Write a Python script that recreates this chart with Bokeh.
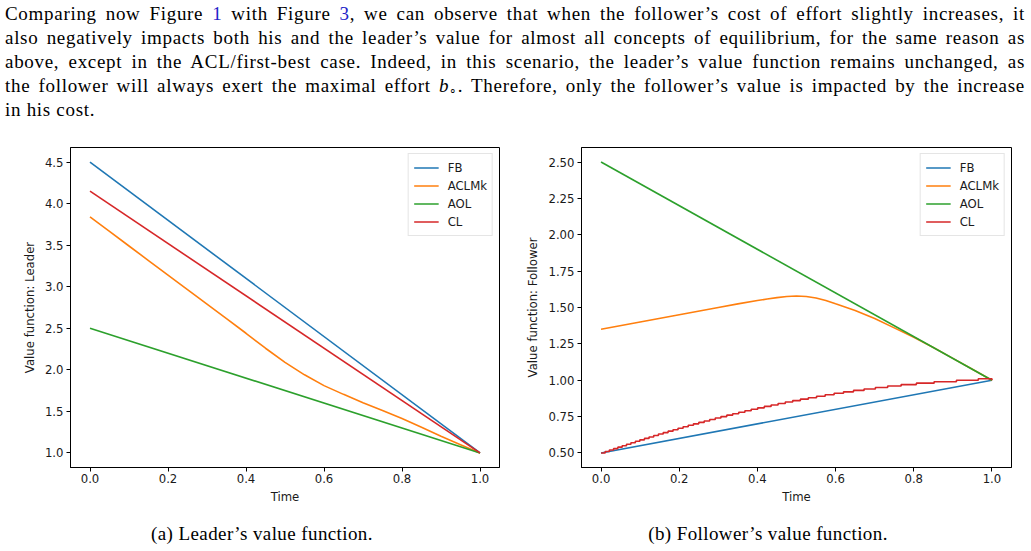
from bokeh.plotting import figure
from bokeh.models import Range1d, FixedTicker, PrintfTickFormatter, Legend, LegendItem, Div
from bokeh.layouts import column, row
from bokeh.embed import file_html
from bokeh.resources import INLINE

# ---------------- data ----------------
series_names = ["FB", "ACLMk", "AOL", "CL"]
colors = ["#1f77b4", "#ff7f0e", "#2ca02c", "#d62728"]

time_ends = [0.0, 1.0]
time_grid = [0.0, 0.05, 0.1, 0.15, 0.2, 0.25, 0.3, 0.35, 0.4, 0.45, 0.5,
             0.55, 0.6, 0.65, 0.7, 0.75, 0.8, 0.85, 0.9, 0.95, 1.0]

# Leader's value function
leader_fb = [4.5, 1.0]
leader_aclmk = [3.84, 3.665, 3.49, 3.315, 3.14, 2.965, 2.79, 2.615, 2.44, 2.26, 2.09,
                1.94, 1.81, 1.705, 1.605, 1.51, 1.415, 1.31, 1.20, 1.10, 1.0]
leader_aol = [2.5, 1.0]
leader_cl = [4.15, 1.0]

# Follower's value function
follower_fb = [0.5, 1.0]
follower_aclmk_t = [0.0, 0.1, 0.2, 0.3, 0.35, 0.4, 0.425, 0.45, 0.475, 0.5, 0.525,
                    0.55, 0.575, 0.6, 0.65, 0.7, 0.75, 0.8, 0.85, 0.9, 0.95, 1.0]
follower_aclmk = [1.35, 1.40, 1.45, 1.50, 1.525, 1.548, 1.558, 1.568, 1.576, 1.579, 1.576,
                  1.565, 1.548, 1.525, 1.48, 1.425, 1.36, 1.295, 1.225, 1.15, 1.075, 1.0]
follower_aol = [2.5, 1.0]
# closed-loop follower value: piecewise constant levels and the times they start
follower_cl_t = [0.0, 0.0106, 0.0213, 0.0321, 0.0430, 0.0540, 0.0651, 0.0764, 0.0878, 0.0993,
                 0.1110, 0.1228, 0.1347, 0.1468, 0.1591, 0.1715, 0.1841, 0.1969, 0.2099, 0.2230,
                 0.2364, 0.2500, 0.2638, 0.2779, 0.2922, 0.3067, 0.3216, 0.3367, 0.3522, 0.3680,
                 0.3841, 0.4007, 0.4176, 0.4350, 0.4529, 0.4713, 0.4903, 0.5099, 0.5302, 0.5513,
                 0.5733, 0.5962, 0.6203, 0.6458, 0.6728, 0.7018, 0.7332, 0.7677, 0.8066, 0.8520,
                 0.9091, 0.9650, 1.0]
follower_cl_v = [0.50, 0.51, 0.52, 0.53, 0.54, 0.55, 0.56, 0.57, 0.58, 0.59,
                 0.60, 0.61, 0.62, 0.63, 0.64, 0.65, 0.66, 0.67, 0.68, 0.69,
                 0.70, 0.71, 0.72, 0.73, 0.74, 0.75, 0.76, 0.77, 0.78, 0.79,
                 0.80, 0.81, 0.82, 0.83, 0.84, 0.85, 0.86, 0.87, 0.88, 0.89,
                 0.90, 0.91, 0.92, 0.93, 0.94, 0.95, 0.96, 0.97, 0.98, 0.99,
                 1.00, 1.01, 1.00]

x_ticks = [0.0, 0.2, 0.4, 0.6, 0.8, 1.0]
leader_y_ticks = [1.0, 1.5, 2.0, 2.5, 3.0, 3.5, 4.0, 4.5]
follower_y_ticks = [0.5, 0.75, 1.0, 1.25, 1.5, 1.75, 2.0, 2.25, 2.5]

SANS = "DejaVu Sans"
SERIF = "Liberation Serif"
TXT = "#1a1a1a"
FS = "11.7px"
LW = 1.6


def make_axes(width, border_left, border_right, y_range, y_ticks, y_fmt, y_label):
    p = figure(width=width, height=377, output_backend="svg", toolbar_location=None,
               x_range=Range1d(-0.05, 1.05), y_range=y_range,
               min_border_left=border_left, min_border_right=border_right,
               min_border_top=17, min_border_bottom=40)
    p.grid.visible = False
    p.outline_line_color = "black"
    p.outline_line_width = 1
    p.outline_line_alpha = 1
    p.background_fill_color = "white"
    p.border_fill_color = "white"

    for ax in (p.xaxis[0], p.yaxis[0]):
        ax.axis_line_color = "black"
        ax.major_tick_line_color = "black"
        ax.major_tick_out = 4
        ax.major_tick_in = 0
        ax.minor_tick_line_color = None
        ax.major_label_text_font = SANS
        ax.major_label_text_font_size = FS
        ax.major_label_text_color = TXT
        ax.axis_label_text_font = SANS
        ax.axis_label_text_font_size = FS
        ax.axis_label_text_font_style = "normal"
        ax.axis_label_text_color = TXT
        ax.major_label_standoff = 3

    p.xaxis.ticker = FixedTicker(ticks=x_ticks)
    p.xaxis.formatter = PrintfTickFormatter(format="%.1f")
    p.xaxis.axis_label = "Time"
    p.xaxis.axis_label_standoff = 4
    p.xaxis.major_label_standoff = 2

    p.yaxis.ticker = FixedTicker(ticks=y_ticks)
    p.yaxis.formatter = PrintfTickFormatter(format=y_fmt)
    p.yaxis.axis_label = y_label
    p.yaxis.axis_label_standoff = 5
    return p


def add_legend(p, renderers):
    items = [LegendItem(label=n, renderers=[r]) for n, r in zip(series_names, renderers)]
    leg = Legend(items=items, location="top_right",
                 label_text_font=SANS, label_text_font_size=FS, label_text_color=TXT,
                 glyph_width=25, glyph_height=17, label_height=17, label_standoff=9,
                 spacing=1, padding=5, margin=6,
                 border_line_color="#cccccc", border_line_width=1,
                 background_fill_color="white", background_fill_alpha=0.8)
    p.add_layout(leg)


# ---------------- leader ----------------
p1 = make_axes(515, 70, 16, Range1d(0.825, 4.675), leader_y_ticks, "%.1f",
               "Value function: Leader")
r_fb = p1.line(time_ends, leader_fb, line_color=colors[0], line_width=LW)
r_ac = p1.line(time_grid, leader_aclmk, line_color=colors[1], line_width=LW)
r_ao = p1.line(time_ends, leader_aol, line_color=colors[2], line_width=LW)
r_cl = p1.line(time_ends, leader_cl, line_color=colors[3], line_width=LW)
add_legend(p1, [r_fb, r_ac, r_ao, r_cl])

# ---------------- follower ----------------
p2 = make_axes(516, 66, 20, Range1d(0.4, 2.6), follower_y_ticks, "%.2f",
               "Value function: Follower")
s_fb = p2.line(time_ends, follower_fb, line_color=colors[0], line_width=LW)
s_ac = p2.line(follower_aclmk_t, follower_aclmk, line_color=colors[1], line_width=LW)
s_ao = p2.line(time_ends, follower_aol, line_color=colors[2], line_width=LW)
s_cl = p2.step(follower_cl_t, follower_cl_v, mode="after", line_color=colors[3], line_width=LW)
add_legend(p2, [s_fb, s_ac, s_ao, s_cl])

# ---------------- text ----------------
LINK = "color:#2323c8"
line_style = "text-align:justify;text-align-last:justify;"
para_html = f"""
<div style="font-family:'{SERIF}';font-size:19px;letter-spacing:0.7px;line-height:24px;color:#000;
            padding:2px 6px 0 5px;width:1020px;box-sizing:content-box;">
  <div style="{line_style}">Comparing now Figure <span style="{LINK}">1</span> with Figure <span style="{LINK}">3</span>, we can observe that when the follower’s cost of effort slightly increases, it</div>
  <div style="{line_style}">also negatively impacts both his and the leader’s value for almost all concepts of equilibrium, for the same reason as</div>
  <div style="{line_style}">above, except in the ACL/first-best case. Indeed, in this scenario, the leader’s value function remains unchanged, as</div>
  <div style="{line_style}">the follower will always exert the maximal effort <i>b</i><span style="font-size:12px;vertical-align:-3px;line-height:0">∘</span>. Therefore, only the follower’s value is impacted by the increase</div>
  <div style="text-align:left;">in his cost.</div>
</div>
"""
para = Div(text=para_html, width=1031, height=130, margin=0)

cap_style = (f"position:absolute;top:15px;transform:translateX(-50%);white-space:nowrap;"
             f"font-family:'{SERIF}';font-size:19px;letter-spacing:0.4px;line-height:24px;color:#000;")
caps_html = f"""
<div style="position:relative;width:1031px;height:44px;">
  <div style="{cap_style}left:262px;">(a) Leader’s value function.</div>
  <div style="{cap_style}left:768px;">(b) Follower’s value function.</div>
</div>
"""
caps = Div(text=caps_html, width=1031, height=44, margin=0)

layout = column(para, row(p1, p2, spacing=0), caps, spacing=0)

open("out.html", "w").write(file_html(layout, INLINE))
